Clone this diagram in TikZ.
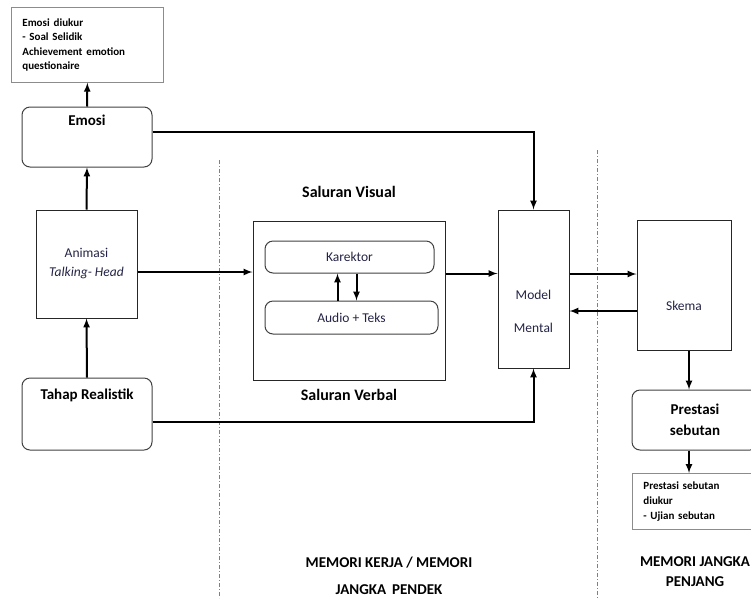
\documentclass[tikz,border=0pt]{standalone}
\usepackage{fontspec}
\setmainfont{Carlito}
\usetikzlibrary{positioning}
\definecolor{textnavy}{RGB}{35,35,70}

\begin{document}
\begin{tikzpicture}[x=1pt,y=-1pt,
roundbox/.style =
  {rectangle,
   draw=black!75, line width=1pt,
   rounded corners=8pt},
plainbox/.style =
  {rectangle,
   draw=black!85, line width=1pt},
notebox/.style =
  {rectangle,
   draw=black!45, line width=0.8pt,
   anchor=north west, align=left, inner xsep=11pt,
   font=\fontsize{11}{14.5}\selectfont\bfseries},
bigtext/.style = {font=\fontsize{15}{18}\selectfont\bfseries},
smalltext/.style = {font=\fontsize{13.5}{19}\selectfont, text=textnavy},
arrow/.style = {-latex, line width=2pt},
divider/.style = {black!50, line width=0.8pt, dash pattern=on 4pt off 2pt on 1pt off 2pt}
]
\useasboundingbox (0,0) rectangle (751,598);
%Nodes
\node[notebox, text width=130pt, minimum height=75pt] (note1) at (11,7)
  {Emosi\hspace{4pt}diukur\\- Soal Selidik\\Achievement\hspace{4pt}emotion\\questionaire};
\node[roundbox, minimum width=130pt, minimum height=60pt] (emosi) at (87,137) {};
\node[bigtext] (emosi-t) at ([yshift=-14pt]emosi.north) {Emosi};
\node[plainbox, smalltext, align=center, minimum width=101pt, minimum height=108pt] (animasi) at (86.5,264)
  {Animasi\\\textit{Talking- Head}};
\node[roundbox, minimum width=130pt, minimum height=72pt] (tahap) at (87,414) {};
\node[bigtext] (tahap-t) at ([yshift=-18pt]tahap.north) {Tahap Realistik};

\node[bigtext, font=\fontsize{16}{19}\selectfont\bfseries] (visual-t) at (349,192) {Saluran Visual};
\node[plainbox, minimum width=192pt, minimum height=159pt] (visual) at (349,300.5) {};
\node[bigtext, font=\fontsize{16}{19}\selectfont\bfseries] (verbal-t) at (349,395) {Saluran Verbal};
\node[roundbox, smalltext, minimum width=169pt, minimum height=32pt] (karektor) at (349.5,257) {Karektor};
\node[roundbox, smalltext, minimum width=173pt, minimum height=33pt] (audio) at (351.5,317.5) {Audio + Teks};

\node[plainbox, minimum width=71pt, minimum height=158pt] (model) at (533.5,289) {};
\node[smalltext, align=center] (model-t) at ([yshift=-22pt]model.center) {Model\\[14pt]Mental};
\node[plainbox, minimum width=94pt, minimum height=130pt] (skema) at (684,285) {};
\node[smalltext] (skema-t) at ([yshift=-21pt]skema.center) {Skema};
\node[roundbox, bigtext, align=center, font=\fontsize{15}{21}\selectfont\bfseries, minimum width=126pt, minimum height=60pt] (prestasi) at (695,420)
  {Prestasi\\sebutan};
\node[notebox, text width=108pt, minimum height=56pt, font=\fontsize{11}{15}\selectfont\bfseries] (note2) at (632,473)
  {Prestasi sebutan\\diukur\\- Ujian sebutan};

\node[bigtext, align=center] (kerja) at (389,575.5) {MEMORI KERJA / MEMORI\\[9pt]JANGKA\hspace{6pt}PENDEK};
\node[bigtext, align=center] (panjang) at (695,572) {MEMORI JANGKA\\[2pt]PENJANG};

%Dividers
\draw[divider] (219,160) -- (219,598);
\draw[divider] (597,150) -- (597,598);

%Arrows
\draw[arrow] (emosi.north) -- (note1.south);
\draw[arrow] (animasi.north) -- (emosi.south);
\draw[arrow] (tahap.north) -- (animasi.south);
\coordinate (e1) at ([yshift=5pt]emosi.east);
\draw[arrow] (e1) -| (model.north);
\coordinate (t1) at ([yshift=-8pt]tahap.east);
\draw[arrow] (t1) -| (model.south);
\coordinate (a1) at ([yshift=-8pt]animasi.east);
\draw[arrow] (a1) -- (a1 -| visual.west);
\coordinate (k1) at ([xshift=-14pt]audio.north);
\draw[arrow] (k1) -- (k1 |- karektor.south);
\coordinate (k2) at ([xshift=5pt]audio.north);
\draw[arrow] (k2 |- karektor.south) -- (k2);
\coordinate (v1) at ([yshift=27pt]visual.east);
\draw[arrow] (v1) -- (v1 -| model.west);
\coordinate (m1) at ([yshift=15pt]model.east);
\draw[arrow] (m1) -- (m1 -| skema.west);
\coordinate (m2) at ([yshift=-22pt]model.east);
\draw[arrow] (m2 -| skema.west) -- (m2);
\coordinate (s1) at ([xshift=5pt]skema.south);
\draw[arrow] (s1) -- (s1 |- prestasi.north);
\coordinate (p1) at (s1 |- prestasi.south);
\draw[arrow] (p1) -- (p1 |- note2.north);
\end{tikzpicture}
\end{document}
